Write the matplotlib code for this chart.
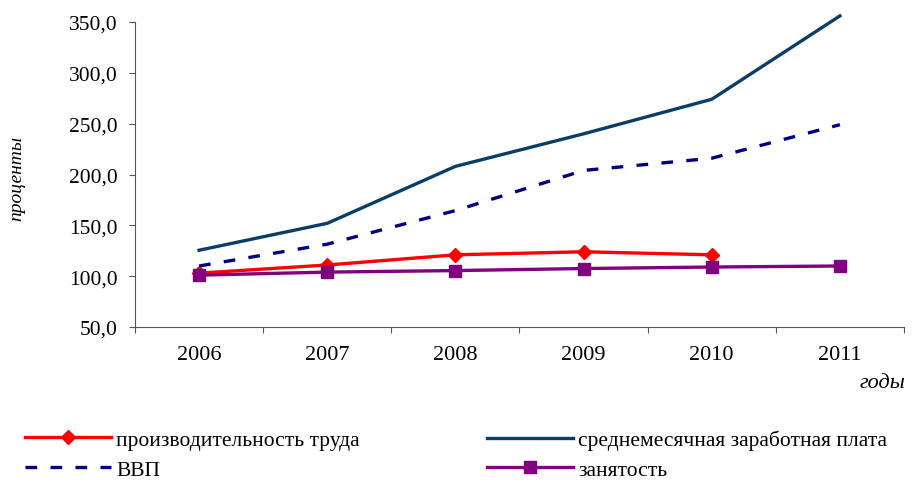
import numpy as np
import matplotlib.pyplot as plt
from matplotlib import ticker

years = ['2006', '2007', '2008', '2009', '2010', '2011']
productivity = [103.0, 111.0, 121.0, 124.0, 121.0]
salary = [125.5, 152.0, 208.0, 240.0, 274.0, 356.0]
gdp = [110.0, 131.5, 164.5, 204.0, 216.0, 249.0]
employment = [101.0, 104.0, 105.5, 107.5, 109.0, 110.0]

plt.rcParams['font.family'] = ['Liberation Serif', 'DejaVu Serif']

fig = plt.figure(figsize=(9.19, 4.81), dpi=100)
ax = fig.add_axes([135/919, 1 - 328/481, (904 - 135)/919, (328 - 23)/481])

x = np.arange(len(years))
l1, = ax.plot(x[:len(productivity)], productivity, color='#ff0000', lw=2.4,
              marker='D', markersize=7, label='производительность труда', clip_on=False)
l2, = ax.plot(x, salary, color='#0b3d66', lw=2.4,
              label='среднемесячная заработная плата', clip_on=False)
l3, = ax.plot(x, gdp, color='#000080', lw=2.4, dashes=(3.5, 4),
              label='ВВП', clip_on=False)
l4, = ax.plot(x, employment, color='#800080', lw=2.4,
              marker='s', markersize=8, label='занятость', clip_on=False)

ax.set_xlim(-0.5, len(years) - 0.5)
ax.set_ylim(50, 350)
ax.yaxis.set_major_locator(ticker.MultipleLocator(50))
ax.yaxis.set_major_formatter(ticker.FuncFormatter(lambda v, p: f"{v:.1f}".replace('.', ',')))

ax.set_xticks(np.arange(-0.5, len(years), 1.0))
ax.set_xticklabels([])
ax.set_xticks(x, minor=True)
ax.set_xticklabels(years, minor=True, fontsize=16)
ax.tick_params(axis='x', which='minor', length=0, pad=13)
ax.tick_params(axis='x', which='major', length=4.5, direction='out', color='#555555')
ax.tick_params(axis='y', length=4.5, direction='out', color='#555555', labelsize=15.5, pad=8)

for s in ['top', 'right']:
    ax.spines[s].set_visible(False)
for s in ['left', 'bottom']:
    ax.spines[s].set_color('#555555')

fig.text(17/919, 1 - 178/481, 'проценты', rotation=90, style='italic',
         fontsize=14, ha='center', va='center')
fig.text(905/919, 1 - 384/481, 'годы', style='italic', fontsize=16,
         ha='right', va='center')

legend_kw = dict(loc='upper left', frameon=False, fontsize=15.5,
                 handlelength=4.0, handletextpad=0.25, labelspacing=0.45, borderpad=0)
leg1 = fig.legend(handles=[l1, l3], bbox_to_anchor=(14/919, 1 - 420/481), **legend_kw)
leg2 = fig.legend(handles=[l2, l4], bbox_to_anchor=(476/919, 1 - 420/481), **legend_kw)

fig.savefig('out.png', dpi=100)
